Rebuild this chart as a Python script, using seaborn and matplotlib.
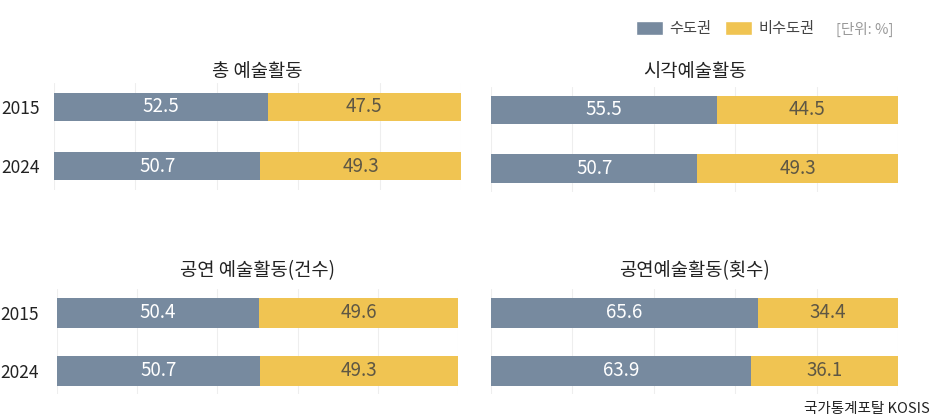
import pandas as pd
import matplotlib.pyplot as plt
import seaborn as sns
from matplotlib.patches import Patch

# data (unit: %)
years = ['2015', '2024']
panel_titles = ['총 예술활동', '시각예술활동', '공연 예술활동(건수)', '공연예술활동(횟수)']
capital_total = [52.5, 50.7]
noncapital_total = [47.5, 49.3]
capital_visual = [55.5, 50.7]
noncapital_visual = [44.5, 49.3]
capital_perf_cases = [50.4, 50.7]
noncapital_perf_cases = [49.6, 49.3]
capital_perf_times = [65.6, 63.9]
noncapital_perf_times = [34.4, 36.1]

capital_series = [capital_total, capital_visual, capital_perf_cases, capital_perf_times]
noncapital_series = [noncapital_total, noncapital_visual, noncapital_perf_cases, noncapital_perf_times]

GRAY = '#778a9f'
YELLOW = '#f0c452'

sns.set_style('white')
plt.rcParams['font.family'] = ['Noto Sans CJK KR', 'DejaVu Sans']

W, H = 940, 418
fig = plt.figure(figsize=(W / 100, H / 100), dpi=100)

# panel boxes in pixels: left, top, right, bottom, bar height, show years, tick pad, title (x, y)
layout = [
    (54, 83, 461, 190, 0.47, True, 10.5, (257, 72)),
    (491, 86.6, 898, 191.8, 0.49, False, 0, (695, 71)),
    (57, 289.4, 458, 394.2, 0.515, True, 13, (257, 271)),
    (491, 289.4, 898, 394.2, 0.515, False, 0, (694, 271)),
]

for title, cap, non, (l, t, r, b, bw, show_years, pad, tpos) in zip(
        panel_titles, capital_series, noncapital_series, layout):
    ax = fig.add_axes([l / W, 1 - b / H, (r - l) / W, (b - t) / H])
    df = pd.DataFrame({'year': years, 'capital': cap, 'noncapital': non})
    df['whole'] = df['capital'] + df['noncapital']

    sns.barplot(data=df, x='whole', y='year', color=YELLOW, width=bw,
                saturation=1, edgecolor='none', linewidth=0, ax=ax, zorder=2)
    sns.barplot(data=df, x='capital', y='year', color=GRAY, width=bw,
                saturation=1, edgecolor='none', linewidth=0, ax=ax, zorder=3)

    for i, (c, n) in enumerate(zip(cap, non)):
        ax.text(c / 2, i, f'{c:.1f}', ha='center', va='center',
                fontsize=13.5, color='white', zorder=4)
        ax.text(c + n / 2, i, f'{n:.1f}', ha='center', va='center',
                fontsize=13.5, color='#5e5744', zorder=4)

    ax.set_xlim(0, 100)
    ax.set_ylim(1.4, -0.4)
    ax.set_xticks([0, 20, 40, 60, 80, 100])
    ax.xaxis.grid(True, color='#eeeeee', linewidth=0.8)
    ax.set_axisbelow(True)
    ax.tick_params(axis='x', labelbottom=False, length=0)
    ax.tick_params(axis='y', length=0, pad=pad, labelsize=12.5, labelcolor='#222222')
    if not show_years:
        ax.tick_params(axis='y', labelleft=False)
    ax.set_xlabel('')
    ax.set_ylabel('')
    sns.despine(ax=ax, left=True, bottom=True)

    fig.text(tpos[0] / W, 1 - tpos[1] / H, title, ha='center', va='center',
             fontsize=13.5, color='#222222')

# legend
handles = [Patch(facecolor=GRAY, label='수도권'), Patch(facecolor=YELLOW, label='비수도권')]
fig.legend(handles=handles, loc='center', bbox_to_anchor=(725.5 / W, 1 - 29 / H),
           ncol=2, frameon=False, fontsize=11, handlelength=1.75, handleheight=1.0,
           columnspacing=0.9, handletextpad=0.45, borderpad=0, labelcolor='#444444')
fig.text(893 / W, 1 - 29 / H, '[단위: %]', ha='right', va='center',
         fontsize=10.5, color='#999999')

fig.text(930 / W, 1 - 409 / H, '국가통계포탈 KOSIS', ha='right', va='center',
         fontsize=10.5, color='#222222')

fig.savefig('out.png', dpi=100)
